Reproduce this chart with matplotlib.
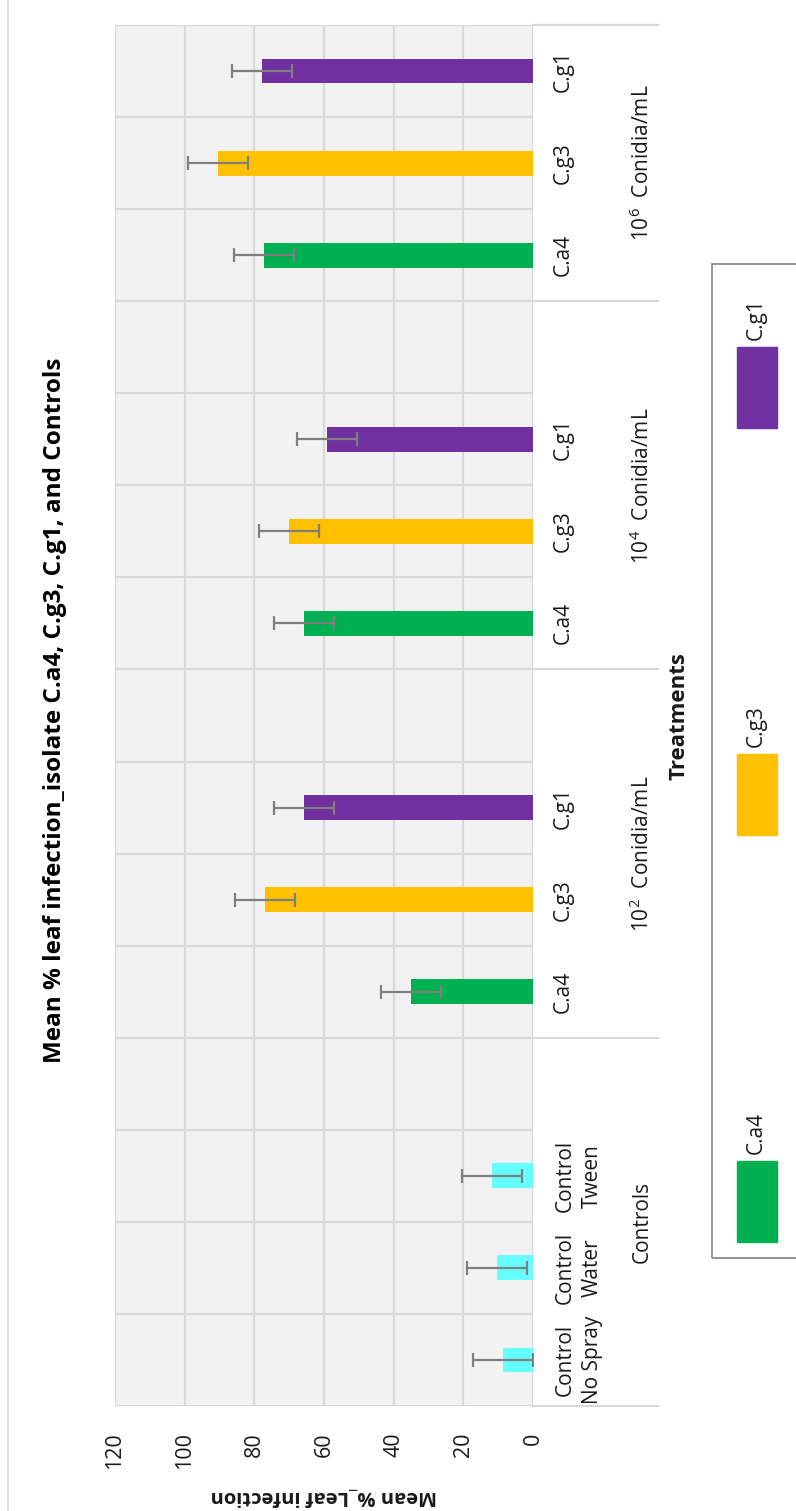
import numpy as np
import matplotlib
matplotlib.use('Agg')
import matplotlib.pyplot as plt
from matplotlib.patches import Rectangle
from matplotlib.lines import Line2D
from matplotlib.transforms import blended_transform_factory

# data
group_names = ['Controls', '10$^\\mathrm{2}$  Conidia/mL', '10$^\\mathrm{4}$  Conidia/mL', '10$^\\mathrm{6}$  Conidia/mL']
control_labels = ['Control\nNo Spray', 'Control\nWater', 'Control\nTween']
control_means = [8.7, 10.3, 11.7]
control_err = [8.6, 8.6, 8.6]
isolates = ['C.a4', 'C.g3', 'C.g1']
isolate_colors = ['#00B050', '#FFC000', '#7030A0']
control_color = '#66FFFF'
means_1e2 = [34.9, 77.0, 65.7]
means_1e4 = [65.7, 70.0, 59.2]
means_1e6 = [77.2, 90.3, 77.9]
err_1e2 = [8.6, 8.6, 8.6]
err_1e4 = [8.6, 8.6, 8.6]
err_1e6 = [8.6, 8.6, 8.6]
value_ticks = [0, 20, 40, 60, 80, 100, 120]

W, H = 796, 1511


def fx(px):
    return px / W


def fy(py):
    return 1 - py / H


def main():
    plt.rcParams['font.family'] = ['Open Sans', 'DejaVu Sans']
    plt.rcParams['mathtext.fontset'] = 'custom'
    plt.rcParams['mathtext.rm'] = 'Open Sans'
    txt_color = '#1A1A1A'

    fig = plt.figure(figsize=(W / 100, H / 100), dpi=100)
    ax = fig.add_axes([fx(115), fy(1406), fx(533) - fx(115), fy(25) - fy(1406)])
    ax.set_facecolor('#F2F2F2')

    # slots: each group gets its members, then one empty slot
    series = [
        (control_labels, control_means, control_err, [control_color] * 3),
        (isolates, means_1e2, err_1e2, isolate_colors),
        (isolates, means_1e4, err_1e4, isolate_colors),
        (isolates, means_1e6, err_1e6, isolate_colors),
    ]
    pos = 0
    bounds = [-0.5]
    n_slots = 15
    trans = blended_transform_factory(fig.transFigure, ax.transData)
    for gi, (labels, vals, errs, cols) in enumerate(series):
        p = np.arange(pos, pos + len(labels))
        ax.barh(p, vals, height=0.27, color=cols, zorder=3,
                xerr=errs, error_kw=dict(ecolor='#7F7F7F', elinewidth=1.6,
                                         capsize=5, capthick=1.6, zorder=4))
        for yy, lab in zip(p, labels):
            xx = 579 if '\n' in lab else 563
            ax.text(fx(xx), yy, lab, transform=trans, rotation=90,
                    ha='center', va='center', multialignment='center',
                    fontsize=15, color=txt_color, linespacing=1.35)
        end = pos + len(labels) + (1 if gi < len(series) - 1 else 0)
        mid = (pos - 0.5 + end - 0.5) / 2
        ax.text(fx(642), mid, group_names[gi], transform=trans, rotation=90,
                ha='center', va='center', fontsize=15, color=txt_color)
        bounds.append(end - 0.5)
        pos = end

    ax.set_xlim(120, 0)
    ax.set_ylim(-0.5, n_slots - 0.5)
    ax.set_xticks(value_ticks)
    ax.set_xticklabels([str(v) for v in value_ticks], rotation=90,
                       fontsize=15.5, color=txt_color)
    ax.tick_params(axis='x', length=0, pad=19)
    ax.set_yticks(np.arange(-0.5, n_slots, 1.0))
    ax.tick_params(axis='y', length=0, labelleft=False)
    ax.grid(True, color='#D9D9D9', linewidth=1.6, zorder=0)
    ax.set_axisbelow(True)
    for s in ax.spines.values():
        s.set_visible(False)

    # group separators beyond the plot
    ext = (658 - 533) / (533 - 115)
    for b in bounds:
        ax.plot([1.0, 1.0 + ext], [b, b], color='#D9D9D9', lw=1.6,
                clip_on=False, transform=blended_transform_factory(ax.transAxes, ax.transData))

    ax.set_xlabel('Mean %_Leaf infection', rotation=180, fontsize=14.5,
                  fontweight='bold', color=txt_color, labelpad=12)

    fig.text(fx(679), fy(716), 'Treatments', rotation=90, ha='center', va='center',
             fontsize=16, fontweight='bold', color=txt_color)
    fig.text(fx(55), fy(710), 'Mean % leaf infection_isolate C.a4, C.g3, C.g1, and Controls',
             rotation=90, ha='center', va='center', fontsize=17.5,
             fontweight='bold', color='black')

    # legend drawn by hand, rotated like the rest of the chart
    fig.add_artist(Rectangle((fx(712), fy(1258)), fx(820) - fx(712), fy(264) - fy(1258),
                             transform=fig.transFigure, fill=False,
                             edgecolor='#8C8C8C', lw=1.3))
    for i, (name, col) in enumerate(zip(isolates, isolate_colors)):
        bottom = 1242 - i * 407
        fig.add_artist(Rectangle((fx(737), fy(bottom)), fx(777) - fx(737), fy(bottom - 81) - fy(bottom),
                                 transform=fig.transFigure, color=col))
        fig.text(fx(756), fy(bottom - 88), name, rotation=90, ha='center', va='bottom',
                 fontsize=15, color=txt_color)

    fig.add_artist(Line2D([fx(8), fx(8)], [0, 1], color='#D9D9D9', lw=1.2))

    fig.savefig('out.png', dpi=100)


if __name__ == '__main__':
    main()
